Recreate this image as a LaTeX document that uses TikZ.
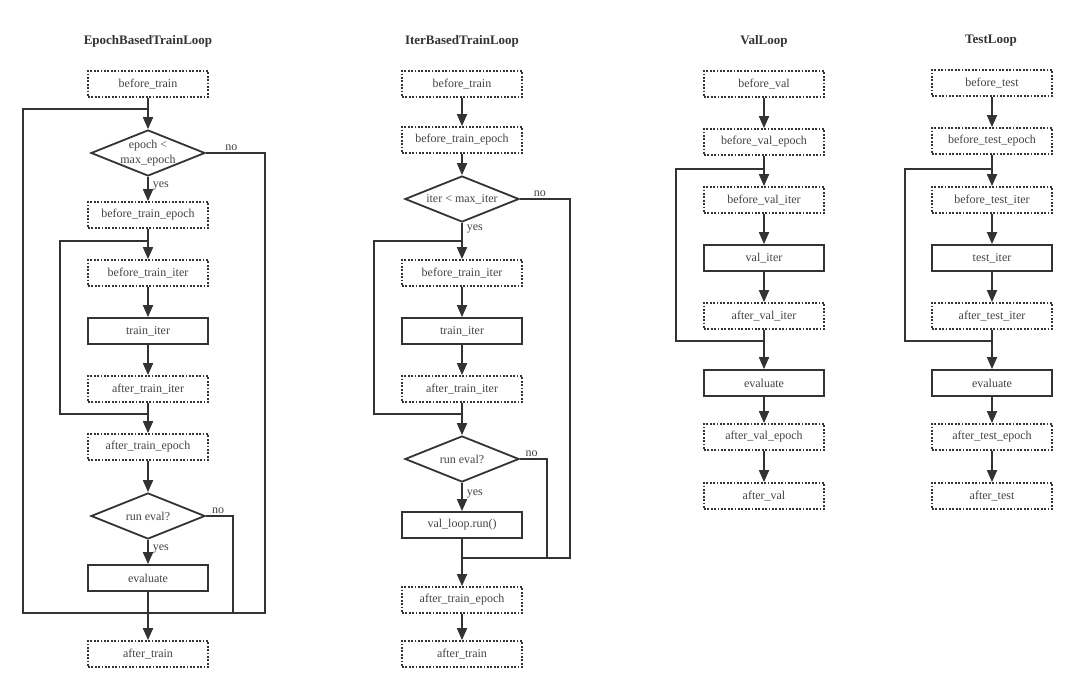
\documentclass[tikz,border=0pt]{standalone}
\usepackage{fontspec}
\setmainfont{Liberation Serif}
\usetikzlibrary{shapes.geometric,arrows.meta}
\definecolor{ink}{HTML}{333333}
\definecolor{txt}{HTML}{444444}
\begin{document}
\begin{tikzpicture}[x=1pt,y=-1pt,font=\fontsize{12}{15}\selectfont,
  base/.style={minimum width=120pt,minimum height=26pt,inner sep=0pt,text=txt,draw=ink,line width=1.8pt},
  hook/.style={base,dash pattern=on 1.8pt off 1.6pt},
  proc/.style={base},
  cond/.style={diamond,draw=ink,line width=1.8pt,minimum width=114pt,minimum height=46pt,inner sep=0pt},
  lbl/.style={text=txt,inner sep=1pt},
  line/.style={draw=ink,line width=1.8pt},
  arr/.style={line,-{Triangle[length=12pt,width=10pt]}},
  title/.style={font=\fontsize{13}{15}\selectfont\bfseries,text=ink}]
\fill[white] (0,0) rectangle (1080,690);
\useasboundingbox (0,0) rectangle (1080,690);

% ---------------- EpochBasedTrainLoop ----------------
\node[title] (ta) at (148,41) {EpochBasedTrainLoop};
\node[hook] (a1) at (148,84) {before\_train};
\node[cond,label={[lbl,align=center]center:epoch <\\max\_epoch}] (a2) at (148,153) {};
\node[hook] (a3) at (148,215) {before\_train\_epoch};
\node[hook] (a4) at (148,273) {before\_train\_iter};
\node[proc] (a5) at (148,331) {train\_iter};
\node[hook] (a6) at (148,389) {after\_train\_iter};
\node[hook] (a7) at (148,447) {after\_train\_epoch};
\node[cond,label={[lbl]center:run eval?}] (a8) at (148,516) {};
\node[proc] (a9) at (148,578) {evaluate};
\node[hook] (a10) at (148,654) {after\_train};

\coordinate (aj1) at (148,109);
\coordinate (ao1) at (23,109);
\coordinate (ao2) at (23,613);
\coordinate (ao3) at (265,613);
\coordinate (ao4) at (265,153);
\coordinate (ai1) at (148,241);
\coordinate (ai2) at (60,241);
\coordinate (ai3) at (60,414);
\coordinate (ai4) at (148,414);
\coordinate (an1) at (233,516);
\coordinate (an2) at (233,613);

\draw[line] (a2.east) -- node[lbl,above,pos=0.43]{no} (ao4) -- (ao3) -- (ao2) -- (ao1) -- (aj1);
\draw[line] (a6.south) -- (ai4) -- (ai3) -- (ai2) -- (ai1);
\draw[line] (a8.east) -- node[lbl,above,pos=0.45]{no} (an1) -- (an2);
\draw[arr] (a1) -- (a2);
\draw[arr] (a2) -- node[lbl,right,pos=0.38,xshift=3pt]{yes} (a3);
\draw[arr] (a3) -- (a4);
\draw[arr] (a4) -- (a5);
\draw[arr] (a5) -- (a6);
\draw[arr] (a6) -- (a7);
\draw[arr] (a7) -- (a8);
\draw[arr] (a8) -- node[lbl,right,pos=0.36,xshift=3pt]{yes} (a9);
\draw[arr] (a9) -- (a10);

% ---------------- IterBasedTrainLoop ----------------
\node[title] (tb) at (462,41) {IterBasedTrainLoop};
\node[hook] (b1) at (462,84) {before\_train};
\node[hook] (b2) at (462,140) {before\_train\_epoch};
\node[cond,label={[lbl]center:iter < max\_iter}] (b3) at (462,199) {};
\node[hook] (b4) at (462,273) {before\_train\_iter};
\node[proc] (b5) at (462,331) {train\_iter};
\node[hook] (b6) at (462,389) {after\_train\_iter};
\node[cond,label={[lbl]center:run eval?}] (b7) at (462,459) {};
\node[proc] (b8) at (462,525) {val\_loop.run()};
\node[hook] (b9) at (462,600) {after\_train\_epoch};
\node[hook] (b10) at (462,654) {after\_train};

\coordinate (bi1) at (462,241);
\coordinate (bi2) at (374,241);
\coordinate (bi3) at (374,414);
\coordinate (bi4) at (462,414);
\coordinate (bo1) at (570,199);
\coordinate (bo2) at (570,558);
\coordinate (bj) at (462,558);
\coordinate (bn1) at (547,459);
\coordinate (bn2) at (547,558);

\draw[line] (b3.east) -- node[lbl,above,pos=0.4]{no} (bo1) -- (bo2) -- (bj);
\draw[line] (b7.east) -- node[lbl,above,pos=0.43]{no} (bn1) -- (bn2);
\draw[line] (b6.south) -- (bi4) -- (bi3) -- (bi2) -- (bi1);
\draw[arr] (b1) -- (b2);
\draw[arr] (b2) -- (b3);
\draw[arr] (b3) -- node[lbl,right,pos=0.18,xshift=3pt]{yes} (b4);
\draw[arr] (b4) -- (b5);
\draw[arr] (b5) -- (b6);
\draw[arr] (b6) -- (b7);
\draw[arr] (b7) -- node[lbl,right,pos=0.4,xshift=3pt]{yes} (b8);
\draw[arr] (b8) -- (b9);
\draw[arr] (b9) -- (b10);

% ---------------- ValLoop ----------------
\node[title] (tc) at (764,41) {ValLoop};
\node[hook] (c1) at (764,84) {before\_val};
\node[hook] (c2) at (764,142) {before\_val\_epoch};
\node[hook] (c3) at (764,200) {before\_val\_iter};
\node[proc] (c4) at (764,258) {val\_iter};
\node[hook] (c5) at (764,316) {after\_val\_iter};
\node[proc] (c6) at (764,383) {evaluate};
\node[hook] (c7) at (764,437) {after\_val\_epoch};
\node[hook] (c8) at (764,496) {after\_val};

\coordinate (ci1) at (764,169);
\coordinate (ci2) at (676,169);
\coordinate (ci3) at (676,341);
\coordinate (ci4) at (764,341);
\draw[line] (c5.south) -- (ci4) -- (ci3) -- (ci2) -- (ci1);
\draw[arr] (c1) -- (c2);
\draw[arr] (c2) -- (c3);
\draw[arr] (c3) -- (c4);
\draw[arr] (c4) -- (c5);
\draw[arr] (c5) -- (c6);
\draw[arr] (c6) -- (c7);
\draw[arr] (c7) -- (c8);

% ---------------- TestLoop ----------------
\node[title] (td) at (991,41) {TestLoop};
\node[hook] (d1) at (992,83) {before\_test};
\node[hook] (d2) at (992,141) {before\_test\_epoch};
\node[hook] (d3) at (992,200) {before\_test\_iter};
\node[proc] (d4) at (992,258) {test\_iter};
\node[hook] (d5) at (992,316) {after\_test\_iter};
\node[proc] (d6) at (992,383) {evaluate};
\node[hook] (d7) at (992,437) {after\_test\_epoch};
\node[hook] (d8) at (992,496) {after\_test};

\coordinate (di1) at (992,169);
\coordinate (di2) at (905,169);
\coordinate (di3) at (905,341);
\coordinate (di4) at (992,341);
\draw[line] (d5.south) -- (di4) -- (di3) -- (di2) -- (di1);
\draw[arr] (d1) -- (d2);
\draw[arr] (d2) -- (d3);
\draw[arr] (d3) -- (d4);
\draw[arr] (d4) -- (d5);
\draw[arr] (d5) -- (d6);
\draw[arr] (d6) -- (d7);
\draw[arr] (d7) -- (d8);
\end{tikzpicture}
\end{document}
